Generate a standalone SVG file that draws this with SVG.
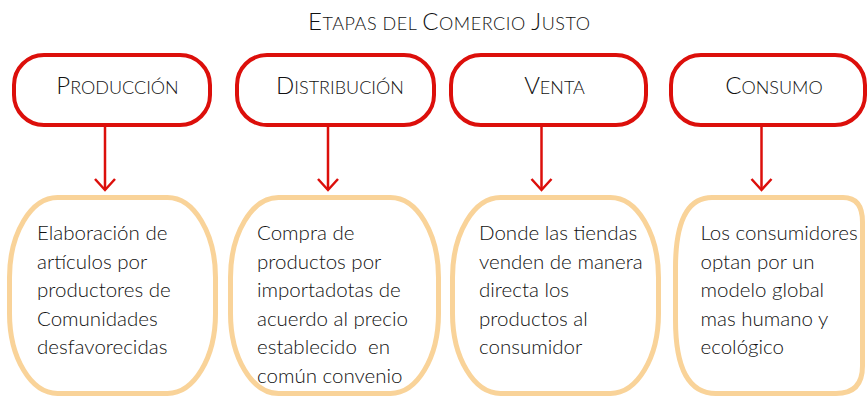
<svg xmlns="http://www.w3.org/2000/svg" width="868" height="396" viewBox="0 0 868 396">
<defs>
<style>
.top{fill:#fff;stroke:#dc0f0b;stroke-width:4}
.bot{fill:#fff;stroke:#f9d399;stroke-width:5}
.lbl{font-family:Lato,"Open Sans",sans-serif;font-weight:300;font-size:24px;fill:#111;text-anchor:middle}
.sc{font-size:18px}
.body{font-family:Lato,"Open Sans",sans-serif;font-weight:300;font-size:20.5px;fill:#111}
.conn line,.conn polyline{stroke:#dc0f0b;stroke-width:2.5;fill:none}
</style>
</defs>
<rect width="868" height="396" fill="#fff"/>
<text id="title" class="lbl" x="449" y="30" textLength="282" lengthAdjust="spacing">E<tspan class="sc">TAPAS DEL </tspan>C<tspan class="sc">OMERCIO </tspan>J<tspan class="sc">USTO</tspan></text>

<g id="produccion">
<rect class="top" x="14" y="55" width="196" height="70" rx="30" ry="30"/>
<text class="lbl" x="117.5" y="94">P<tspan class="sc">RODUCCIÓN</tspan></text>
</g>
<g id="distribucion">
<rect class="top" x="237" y="55" width="197" height="70" rx="30" ry="30"/>
<text class="lbl" x="340" y="94">D<tspan class="sc">ISTRIBUCIÓN</tspan></text>
</g>
<g id="venta">
<rect class="top" x="451" y="55" width="195" height="70" rx="30" ry="30"/>
<text class="lbl" x="554.5" y="94">V<tspan class="sc">ENTA</tspan></text>
</g>
<g id="consumo">
<rect class="top" x="671" y="55" width="194" height="70" rx="30" ry="30"/>
<text class="lbl" x="774" y="94">C<tspan class="sc">ONSUMO</tspan></text>
</g>

<g class="conn">
<line x1="105" y1="126" x2="105" y2="190"/><polyline points="95,179 105,190 115,179"/>
<line x1="328" y1="126" x2="328" y2="190"/><polyline points="318,179 328,190 338,179"/>
<line x1="541.5" y1="126" x2="541.5" y2="190"/><polyline points="531.5,179 541.5,190 551.5,179"/>
<line x1="761.5" y1="126" x2="761.5" y2="190"/><polyline points="751.5,179 761.5,190 771.5,179"/>
</g>

<g id="desc1">
<rect class="bot" x="9.5" y="197.5" width="206" height="196" rx="48" ry="80"/>
<text class="body"><tspan x="37" y="240">Elaboración de</tspan><tspan x="37" y="268.5">artículos por</tspan><tspan x="37" y="297">productores de</tspan><tspan x="37" y="325.5">Comunidades</tspan><tspan x="37" y="354">desfavorecidas</tspan></text>
</g>
<g id="desc2">
<rect class="bot" x="230.5" y="197.5" width="208" height="196" rx="48" ry="80"/>
<text class="body"><tspan x="257" y="240">Compra de</tspan><tspan x="257" y="268.5">productos por</tspan><tspan x="257" y="297">importadotas de</tspan><tspan x="257" y="325.5">acuerdo al precio</tspan><tspan x="257" y="354" xml:space="preserve">establecido  en</tspan><tspan x="257" y="382.5">común convenio</tspan></text>
</g>
<g id="desc3">
<rect class="bot" x="452.5" y="197.5" width="206" height="196" rx="48" ry="80"/>
<text class="body"><tspan x="479" y="240">Donde las tiendas</tspan><tspan x="479" y="268.5">venden de manera</tspan><tspan x="479" y="297">directa los</tspan><tspan x="479" y="325.5">productos al</tspan><tspan x="479" y="354">consumidor</tspan></text>
</g>
<g id="desc4">
<path class="bot" d="M712,197.5 H843 Q862.5,197.5 862.5,222 V366 Q862.5,393.5 836,393.5 H716 Q675.5,393.5 675.5,320 V268 Q675.5,197.5 712,197.5 Z"/>
<text class="body"><tspan x="700.5" y="240">Los consumidores</tspan><tspan x="700.5" y="268.5">optan por un</tspan><tspan x="700.5" y="297">modelo global</tspan><tspan x="700.5" y="325.5">mas humano y</tspan><tspan x="700.5" y="354">ecológico</tspan></text>
</g>
</svg>
